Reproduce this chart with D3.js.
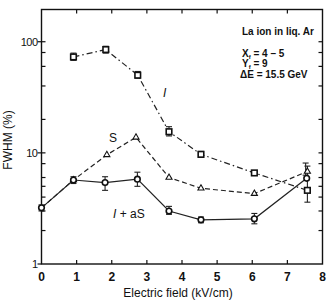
<!DOCTYPE html>
<html lang="en">
<head>
<meta charset="UTF-8">
<title>FWHM vs electric field</title>
<style>
    body { margin: 0; background: #fff; }
    text { font-family: 'Liberation Sans', Arial, sans-serif; fill: #111; }
    .frame { fill: none; stroke: #111; stroke-width: 1.4px; }
    .tick { stroke: #111; stroke-width: 1.2px; }
    .line { fill: none; stroke: #222; stroke-width: 1.2px; }
    .err { stroke: #222; stroke-width: 1.1px; }
    .mark { fill: #fff; stroke: #111; stroke-width: 1.6px; }
</style>
</head>
<body>
<script src="https://d3js.org/d3.v7.min.js"></script>
<script>

    const W = 332, H = 305;

    // curve I (squares, dash-dot)
    const xI = [0.91, 1.83, 2.74, 3.63, 4.54, 6.06, 7.57];
    const yI = [73, 85, 50, 15.5, 9.7, 6.6, 4.6];
    const loI = [68, 79, 47, 14.2, 9.1, 6.4, 3.6];
    const hiI = [79, 91, 54, 17.2, 10.3, 6.8, 7.6];

    // curve S (triangles, dashed)
    const xS = [0, 0.91, 1.86, 2.69, 3.63, 4.54, 6.06, 7.57];
    const yS = [3.2, 5.7, 9.6, 13.8, 6.0, 4.8, 4.3, 6.8];

    // curve I + aS (circles, solid)
    const xC = [0, 0.91, 1.81, 2.73, 3.63, 4.54, 6.06, 7.55];
    const yC = [3.2, 5.7, 5.4, 5.8, 3.0, 2.5, 2.55, 5.9];
    const loC = [3.0, 5.3, 4.6, 5.0, 2.8, 2.35, 2.3, 5.9];
    const hiC = [3.4, 6.1, 6.1, 6.7, 3.3, 2.65, 2.85, 5.9];

    const xTicks = [0, 1, 2, 3, 4, 5, 6, 7, 8];
    const yMajor = [1, 10, 100];
    const yMinor = [2, 3, 4, 5, 6, 8, 20, 40, 60, 80];

    let svg = d3.select('body').append('svg')
        .attr('width', W)
        .attr('height', H);

    let x = d3.scaleLinear().domain([0, 8]).range([41.5, 322.5]);
    let y = d3.scaleLog().domain([1, 195]).range([264, 9.5]);

    // frame
    svg.append('rect')
        .attr('class', 'frame')
        .attr('x', x(0)).attr('y', y(195))
        .attr('width', x(8) - x(0))
        .attr('height', y(1) - y(195));

    // x ticks (bottom and top, inward)
    xTicks.slice(1, -1).forEach(function(d) {
        svg.append('line').attr('class', 'tick')
            .attr('x1', x(d)).attr('x2', x(d))
            .attr('y1', y(1)).attr('y2', y(1) - 4);
        svg.append('line').attr('class', 'tick')
            .attr('x1', x(d)).attr('x2', x(d))
            .attr('y1', y(195)).attr('y2', y(195) + 4);
    });

    svg.selectAll('.xlab')
        .data(xTicks)
        .enter().append('text')
        .attr('class', 'xlab')
        .attr('x', function(d) { return x(d); })
        .attr('y', 281)
        .attr('text-anchor', 'middle')
        .style('font-size', '12px')
        .style('font-weight', 'bold')
        .text(function(d) { return d; });

    // y ticks
    yMajor.forEach(function(d) {
        svg.append('line').attr('class', 'tick')
            .attr('x1', x(0) - 4).attr('x2', x(0))
            .attr('y1', y(d)).attr('y2', y(d));
        svg.append('text')
            .attr('x', x(0) - 4)
            .attr('y', y(d) + 4)
            .attr('text-anchor', 'end')
            .style('font-size', '11px')
            .style('letter-spacing', '-0.5px')
            .text(d);
    });
    yMinor.concat([10, 100]).forEach(function(d) {
        svg.append('line').attr('class', 'tick')
            .attr('x1', x(0)).attr('x2', x(0) + 4)
            .attr('y1', y(d)).attr('y2', y(d));
        svg.append('line').attr('class', 'tick')
            .attr('x1', x(8)).attr('x2', x(8) - 4)
            .attr('y1', y(d)).attr('y2', y(d));
    });

    // axis titles
    svg.append('text')
        .attr('transform', 'translate(12,' + 140 + ') rotate(-90)')
        .attr('text-anchor', 'middle')
        .style('font-size', '12px')
        .text('FWHM (%)');

    svg.append('text')
        .attr('x', 178)
        .attr('y', 297)
        .attr('text-anchor', 'middle')
        .style('font-size', '12px')
        .text('Electric field (kV/cm)');

    let line = d3.line()
        .x(function(d) { return x(d[0]); })
        .y(function(d) { return y(d[1]); });

    // error bars
    function errBars(xs, lo, hi) {
        xs.forEach(function(d, i) {
            if (hi[i] - lo[i] < 0.01) return;
            let g = svg.append('g');
            g.append('line').attr('class', 'err')
                .attr('x1', x(d)).attr('x2', x(d))
                .attr('y1', y(lo[i])).attr('y2', y(hi[i]));
            [lo[i], hi[i]].forEach(function(v) {
                g.append('line').attr('class', 'err')
                    .attr('x1', x(d) - 3).attr('x2', x(d) + 3)
                    .attr('y1', y(v)).attr('y2', y(v));
            });
        });
    }

    // lines
    svg.append('path')
        .datum(d3.zip(xI, yI))
        .attr('class', 'line')
        .style('stroke-dasharray', '6,3,1.5,3')
        .attr('d', line);

    svg.append('path')
        .datum(d3.zip(xS, yS))
        .attr('class', 'line')
        .style('stroke-dasharray', '5,3')
        .attr('d', line);

    svg.append('path')
        .datum(d3.zip(xC, yC))
        .attr('class', 'line')
        .attr('d', line);

    errBars(xI, loI, hiI);
    errBars(xC, loC, hiC);
    errBars([7.52], [6.3], [8.1]);

    // markers
    svg.selectAll('.sq')
        .data(d3.zip(xI, yI))
        .enter().append('rect')
        .attr('class', 'mark')
        .attr('x', function(d) { return x(d[0]) - 2.8; })
        .attr('y', function(d) { return y(d[1]) - 2.8; })
        .attr('width', 5.6).attr('height', 5.6);

    let tri = d3.symbol().type(d3.symbolTriangle).size(16);
    svg.selectAll('.tri')
        .data(d3.zip(xS, yS).slice(1))
        .enter().append('path')
        .attr('class', 'mark')
        .style('stroke-width', '1.1px')
        .attr('transform', function(d) { return 'translate(' + x(d[0]) + ',' + y(d[1]) + ')'; })
        .attr('d', tri);

    svg.selectAll('.circ')
        .data(d3.zip(xC, yC))
        .enter().append('circle')
        .attr('class', 'mark')
        .attr('cx', function(d) { return x(d[0]); })
        .attr('cy', function(d) { return y(d[1]); })
        .attr('r', 2.8);

    // curve labels
    svg.append('text')
        .attr('x', 163).attr('y', 97)
        .style('font-size', '12px')
        .style('font-style', 'italic')
        .text('I');
    svg.append('text')
        .attr('x', 109).attr('y', 142)
        .style('font-size', '12px')
        .text('S');
    let lab = svg.append('text')
        .attr('x', 113).attr('y', 218)
        .style('font-size', '12px');
    lab.append('tspan').style('font-style', 'italic').text('I');
    lab.append('tspan').text(' + aS');

    // annotation
    let note = svg.append('g').style('font-size', '10px').style('font-weight', 'bold');
    note.append('text').attr('x', 242).attr('y', 35).text('La ion in liq. Ar');
    let t1 = note.append('text').attr('x', 242).attr('y', 57);
    t1.append('tspan').text('X');
    t1.append('tspan').attr('dy', 2).style('font-size', '6px').text('f');
    t1.append('tspan').attr('dy', -2).text(' = 4 \u2013 5');
    let t2 = note.append('text').attr('x', 242).attr('y', 67);
    t2.append('tspan').text('Y');
    t2.append('tspan').attr('dy', 2).style('font-size', '6px').text('f');
    t2.append('tspan').attr('dy', -2).text(' = 9');
    note.append('text').attr('x', 240).attr('y', 78).text('\u0394E = 15.5 GeV');

</script>
</body>
</html>
